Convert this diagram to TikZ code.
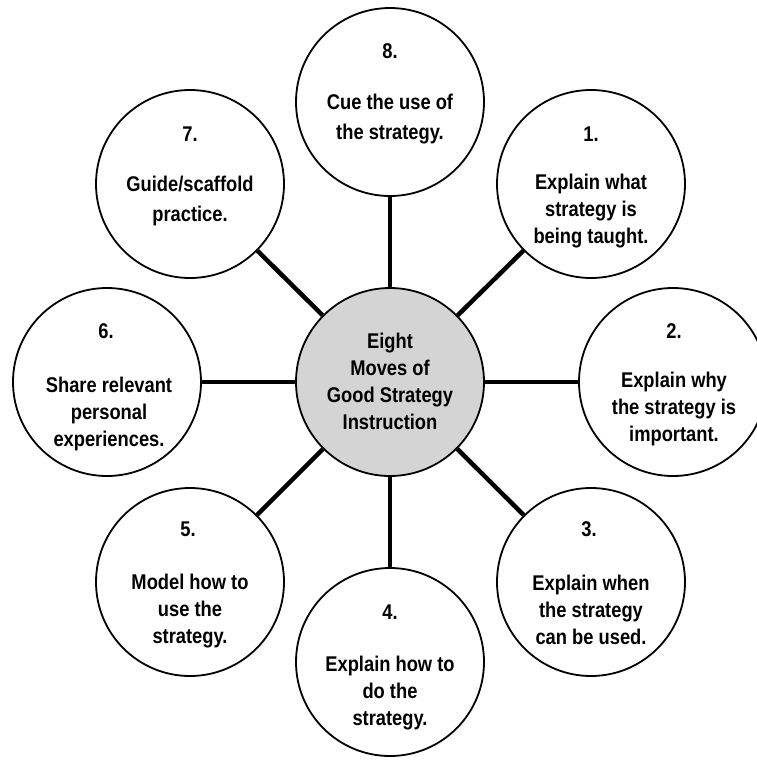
\documentclass[tikz,border=0pt]{standalone}
\usepackage{fontspec}
\setmainfont{Liberation Sans}[FakeStretch=0.86]
\definecolor{hubgray}{RGB}{212,212,212}
\begin{document}
\begin{tikzpicture}[x=1pt,y=-1pt,
  move/.style={circle, draw=black, line width=1.8pt, minimum size=188pt, inner sep=0pt, fill=white},
  hub/.style={move, fill=hubgray},
  spoke/.style={line width=4.5pt},
  lbl/.style={font=\bfseries\fontsize{21.3}{27}\selectfont, align=center, inner sep=0pt},
  lbltwo/.style={font=\bfseries\fontsize{21.3}{30}\selectfont, align=center, inner sep=0pt}]
\useasboundingbox (0,0) rectangle (756,764);
\fill[white] (0,0) rectangle (756,764);
% circles
\node[hub]  (hub) at (390,382) {};
\node[move] (c8) at (390,102) {};
\node[move] (c7) at (190,184) {};
\node[move] (c1) at (591,184) {};
\node[move] (c6) at (107,382) {};
\node[move] (c2) at (673,382) {};
\node[move] (c5) at (190,582) {};
\node[move] (c3) at (591,582) {};
\node[move] (c4) at (390,662) {};
% spokes
\foreach \c in {c1,c2,c3,c4,c5,c6,c7,c8}
  \draw[spoke] (hub) -- (\c);
% texts
\node[lbl] (hubt) at (390,381) {Eight\\Moves of\\Good Strategy\\Instruction};
\node[lbl] (n8) at (390,51) {8.};
\node[lbltwo] (t8) at (390,119) {Cue the use of\\the strategy.};
\node[lbl] (n7) at (190,134) {7.};
\node[lbltwo] (t7) at (190,201) {Guide/scaffold\\practice.};
\node[lbl] (n1) at (591,134) {1.};
\node[lbl] (t1) at (591,211) {Explain what\\strategy is\\being taught.};
\node[lbl] (n6) at (106,331) {6.};
\node[lbl] (t6) at (109,414) {Share relevant\\personal\\experiences.};
\node[lbl] (n2) at (674,331) {2.};
\node[lbl] (t2) at (674,409) {Explain why\\the strategy is\\important.};
\node[lbl] (n5) at (188,529) {5.};
\node[lbl] (t5) at (190,611) {Model how to\\use the\\strategy.};
\node[lbl] (n3) at (589,529) {3.};
\node[lbl] (t3) at (591,610) {Explain when\\the strategy\\can be used.};
\node[lbl] (n4) at (390,612) {4.};
\node[lbl] (t4) at (390,693) {Explain how to\\do the\\strategy.};
\end{tikzpicture}
\end{document}
